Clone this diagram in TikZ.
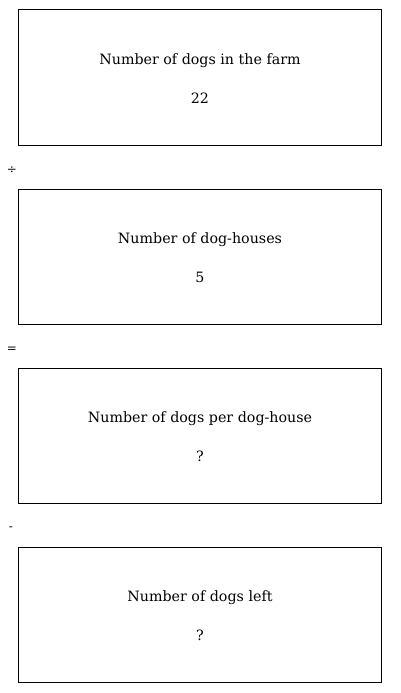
\documentclass[tikz,border=0pt]{standalone}
\usepackage{fontspec}
\setmainfont{DejaVu Serif}
\begin{document}
\begin{tikzpicture}[x=1bp,y=-1bp]
\tikzset{
  qbox/.style={draw=black, line width=1bp, minimum width=363bp, minimum height=135bp, inner sep=0pt, align=center},
  qtext/.style={inner sep=0pt, align=center, font=\fontsize{14.3}{39}\selectfont},
  opsym/.style={inner sep=0pt, font=\fontsize{12}{14}\selectfont}
}
\useasboundingbox (0,0) rectangle (400,693);
\node[qbox] (b1) at (200,77.5) {};
\node[qbox] (b2) at (200,256.5) {};
\node[qbox] (b3) at (200,435.5) {};
\node[qbox] (b4) at (200,614.5) {};
\node[qtext] (t1) at ([yshift=-1.5bp]b1.center) {Number of dogs in the farm\\22};
\node[qtext] (t2) at ([yshift=-1.5bp]b2.center) {Number of dog-houses\\5};
\node[qtext] (t3) at ([yshift=-1.5bp]b3.center) {Number of dogs per dog-house\\?};
\node[qtext] (t4) at ([yshift=-1.5bp]b4.center) {Number of dogs left\\?};
\node[opsym] (o1) at (12,170) {÷};
\node[opsym] (o2) at (12,349.5) {=};
\node[opsym] (o3) at (11,529) {-};
\end{tikzpicture}
\end{document}
